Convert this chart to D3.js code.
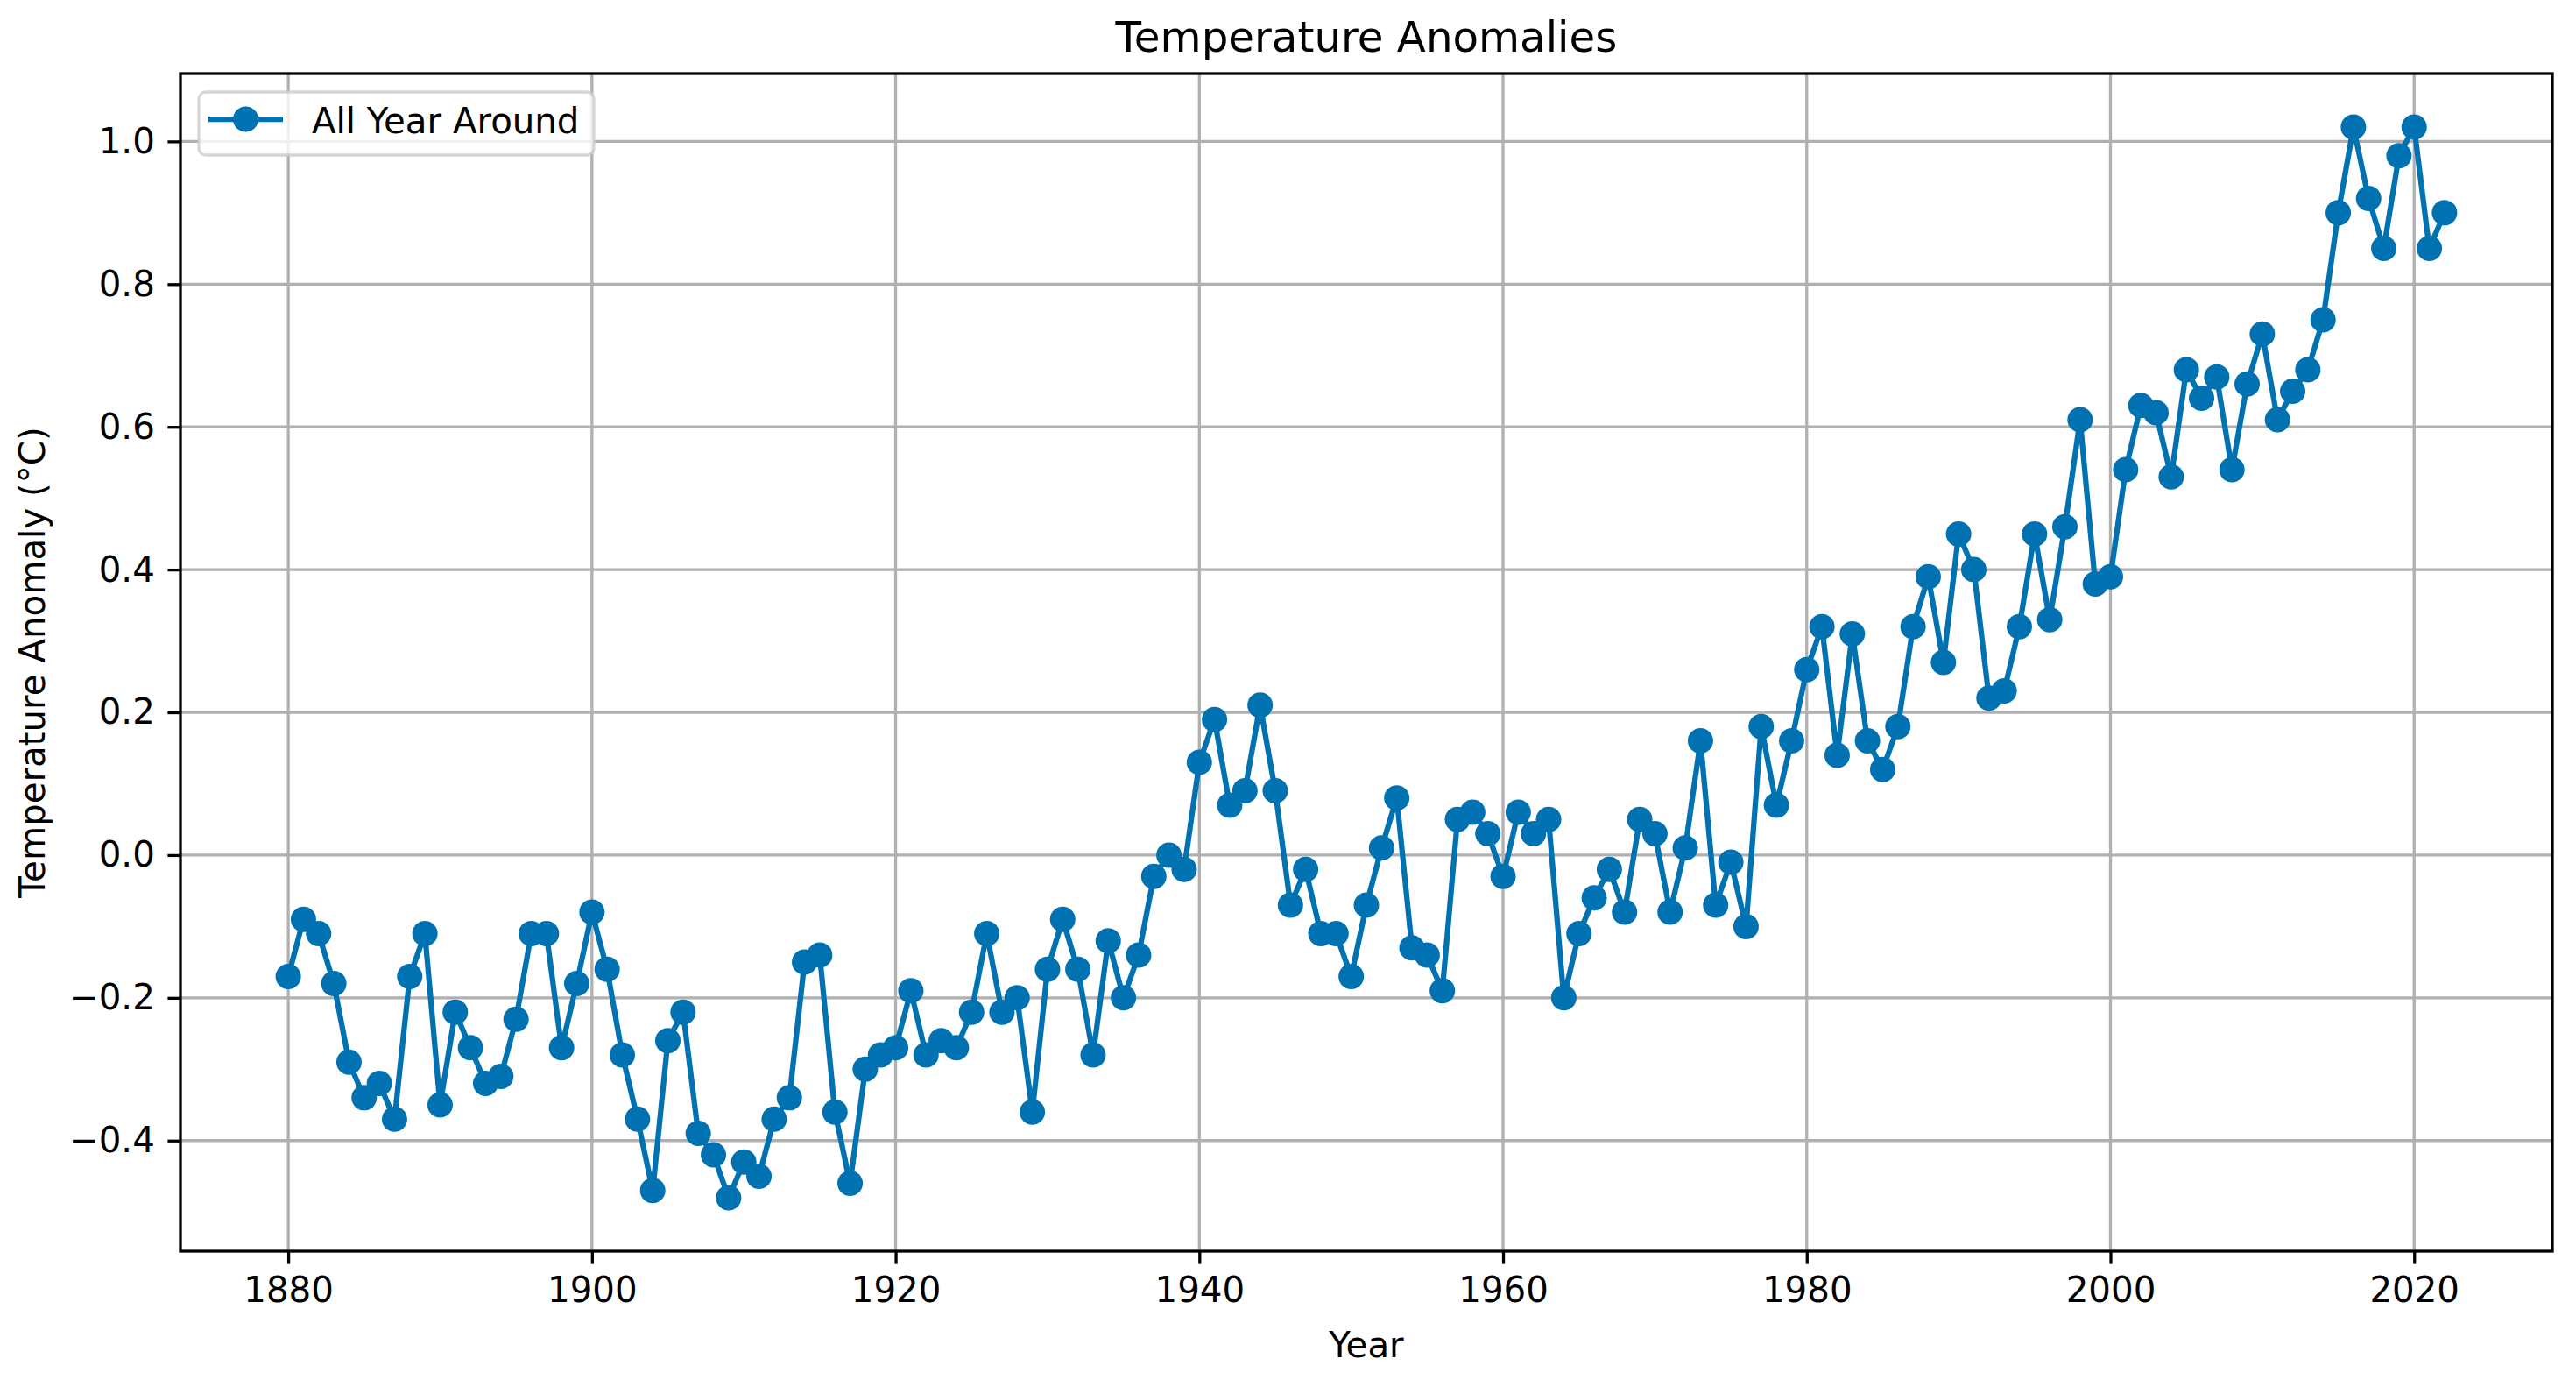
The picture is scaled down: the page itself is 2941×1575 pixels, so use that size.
<!DOCTYPE html>
<html>
<head>
<meta charset="utf-8">
<script src="https://cdn.jsdelivr.net/npm/d3@7"></script>
<style>
  body { margin: 0; background: #fff; }
  svg { display: block; font-family: "DejaVu Sans", sans-serif; }
</style>
</head>
<body>
<svg id="chart"></svg>
<script>
const width = 2941;
const height = 1575;

// years and yearly anomalies (°C)
const years = [
  1880, 1881, 1882, 1883, 1884, 1885, 1886, 1887, 1888, 1889,
  1890, 1891, 1892, 1893, 1894, 1895, 1896, 1897, 1898, 1899,
  1900, 1901, 1902, 1903, 1904, 1905, 1906, 1907, 1908, 1909,
  1910, 1911, 1912, 1913, 1914, 1915, 1916, 1917, 1918, 1919,
  1920, 1921, 1922, 1923, 1924, 1925, 1926, 1927, 1928, 1929,
  1930, 1931, 1932, 1933, 1934, 1935, 1936, 1937, 1938, 1939,
  1940, 1941, 1942, 1943, 1944, 1945, 1946, 1947, 1948, 1949,
  1950, 1951, 1952, 1953, 1954, 1955, 1956, 1957, 1958, 1959,
  1960, 1961, 1962, 1963, 1964, 1965, 1966, 1967, 1968, 1969,
  1970, 1971, 1972, 1973, 1974, 1975, 1976, 1977, 1978, 1979,
  1980, 1981, 1982, 1983, 1984, 1985, 1986, 1987, 1988, 1989,
  1990, 1991, 1992, 1993, 1994, 1995, 1996, 1997, 1998, 1999,
  2000, 2001, 2002, 2003, 2004, 2005, 2006, 2007, 2008, 2009,
  2010, 2011, 2012, 2013, 2014, 2015, 2016, 2017, 2018, 2019,
  2020, 2021, 2022
];

const anomalies = [
  -0.17, -0.09, -0.11, -0.18, -0.29, -0.34, -0.32, -0.37, -0.17, -0.11,
  -0.35, -0.22, -0.27, -0.32, -0.31, -0.23, -0.11, -0.11, -0.27, -0.18,
  -0.08, -0.16, -0.28, -0.37, -0.47, -0.26, -0.22, -0.39, -0.42, -0.48,
  -0.43, -0.45, -0.37, -0.34, -0.15, -0.14, -0.36, -0.46, -0.30, -0.28,
  -0.27, -0.19, -0.28, -0.26, -0.27, -0.22, -0.11, -0.22, -0.20, -0.36,
  -0.16, -0.09, -0.16, -0.28, -0.12, -0.20, -0.14, -0.03, 0.00, -0.02,
  0.13, 0.19, 0.07, 0.09, 0.21, 0.09, -0.07, -0.02, -0.11, -0.11,
  -0.17, -0.07, 0.01, 0.08, -0.13, -0.14, -0.19, 0.05, 0.06, 0.03,
  -0.03, 0.06, 0.03, 0.05, -0.20, -0.11, -0.06, -0.02, -0.08, 0.05,
  0.03, -0.08, 0.01, 0.16, -0.07, -0.01, -0.10, 0.18, 0.07, 0.16,
  0.26, 0.32, 0.14, 0.31, 0.16, 0.12, 0.18, 0.32, 0.39, 0.27,
  0.45, 0.40, 0.22, 0.23, 0.32, 0.45, 0.33, 0.46, 0.61, 0.38,
  0.39, 0.54, 0.63, 0.62, 0.53, 0.68, 0.64, 0.67, 0.54, 0.66,
  0.73, 0.61, 0.65, 0.68, 0.75, 0.90, 1.02, 0.92, 0.85, 0.98,
  1.02, 0.85, 0.90
];

const xTicks = [1880, 1900, 1920, 1940, 1960, 1980, 2000, 2020];
const yTicks = [-0.4, -0.2, 0.0, 0.2, 0.4, 0.6, 0.8, 1.0];

const seriesName = "All Year Around";
const lineColor = "#0072b2";

const plot = { left: 206, right: 2914, top: 84, bottom: 1428 };
const fontSize = 40.3;
const lw = 3.3; // 0.8pt
const markerR = 14.5; // 6pt marker + 1pt edge

const data = years.map((y, i) => ({ year: y, value: anomalies[i] }));

// matplotlib-style 5% margins
function padded(ext) {
  const r = ext[1] - ext[0];
  return [ext[0] - 0.05 * r, ext[1] + 0.05 * r];
}

const x = d3.scaleLinear()
  .domain(padded(d3.extent(years)))
  .range([plot.left, plot.right]);

const y = d3.scaleLinear()
  .domain(padded(d3.extent(anomalies)))
  .range([plot.bottom, plot.top]);

const svg = d3.select("#chart")
  .attr("width", width)
  .attr("height", height);

svg.append("rect")
  .attr("width", width)
  .attr("height", height)
  .attr("fill", "#fff");

// grid
const grid = svg.append("g");
grid.selectAll("line.gx")
  .data(xTicks)
  .enter()
  .append("line")
  .attr("x1", d => x(d)).attr("x2", d => x(d))
  .attr("y1", plot.top).attr("y2", plot.bottom)
  .attr("stroke", "#b0b0b0").attr("stroke-width", lw);
grid.selectAll("line.gy")
  .data(yTicks)
  .enter()
  .append("line")
  .attr("x1", plot.left).attr("x2", plot.right)
  .attr("y1", d => y(d)).attr("y2", d => y(d))
  .attr("stroke", "#b0b0b0").attr("stroke-width", lw);

// series
const line = d3.line()
  .x(d => x(d.year))
  .y(d => y(d.value));

svg.append("path")
  .datum(data)
  .attr("d", line)
  .attr("fill", "none")
  .attr("stroke", lineColor)
  .attr("stroke-width", 6.25)
  .attr("stroke-linejoin", "round")
  .attr("stroke-linecap", "square");

svg.append("g")
  .selectAll("circle")
  .data(data)
  .enter()
  .append("circle")
  .attr("cx", d => x(d.year))
  .attr("cy", d => y(d.value))
  .attr("r", markerR)
  .attr("fill", lineColor);

// axes
const xAxis = svg.append("g")
  .attr("transform", `translate(0,${plot.bottom})`)
  .call(d3.axisBottom(x)
    .tickValues(xTicks)
    .tickFormat(d3.format("d"))
    .tickSize(14.6)
    .tickPadding(14.6)
    .tickSizeOuter(0));

const yAxis = svg.append("g")
  .attr("transform", `translate(${plot.left},0)`)
  .call(d3.axisLeft(y)
    .tickValues(yTicks)
    .tickFormat(d3.format(".1f"))
    .tickSize(14.6)
    .tickPadding(14.6)
    .tickSizeOuter(0));

[xAxis, yAxis].forEach(a => {
  a.select(".domain").remove();
  a.selectAll(".tick line").attr("stroke", "#000").attr("stroke-width", lw);
  a.selectAll(".tick text")
    .attr("fill", "#000")
    .style("font-size", fontSize + "px")
    .style("font-family", "DejaVu Sans");
});

// spines
svg.append("rect")
  .attr("x", plot.left)
  .attr("y", plot.top)
  .attr("width", plot.right - plot.left)
  .attr("height", plot.bottom - plot.top)
  .attr("fill", "none")
  .attr("stroke", "#000")
  .attr("stroke-width", lw);

// labels
svg.append("text")
  .attr("x", (plot.left + plot.right) / 2)
  .attr("y", 59)
  .attr("text-anchor", "middle")
  .style("font-size", "48.3px")
  .text("Temperature Anomalies");

svg.append("text")
  .attr("x", (plot.left + plot.right) / 2)
  .attr("y", 1549)
  .attr("text-anchor", "middle")
  .style("font-size", fontSize + "px")
  .text("Year");

svg.append("text")
  .attr("transform", `translate(51,${(plot.top + plot.bottom) / 2}) rotate(-90)`)
  .attr("text-anchor", "middle")
  .style("font-size", fontSize + "px")
  .text("Temperature Anomaly (°C)");

// legend
const legend = svg.append("g");
legend.append("rect")
  .attr("x", 227).attr("y", 105)
  .attr("width", 451).attr("height", 72)
  .attr("rx", 8)
  .attr("fill", "#fff").attr("fill-opacity", 0.8)
  .attr("stroke", "#cccccc").attr("stroke-opacity", 0.8)
  .attr("stroke-width", lw);
legend.append("line")
  .attr("x1", 238).attr("x2", 323)
  .attr("y1", 136).attr("y2", 136)
  .attr("stroke", lineColor).attr("stroke-width", 6.25);
legend.append("circle")
  .attr("cx", 280.5).attr("cy", 136).attr("r", markerR)
  .attr("fill", lineColor);
legend.append("text")
  .attr("x", 356).attr("y", 152)
  .style("font-size", fontSize + "px")
  .text(seriesName);
</script>
</body>
</html>
